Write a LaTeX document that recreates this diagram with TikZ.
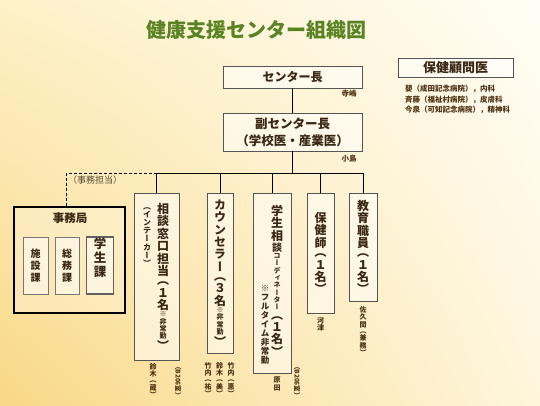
\documentclass[tikz,border=0pt]{standalone}
\usepackage{fontspec}
\setmainfont{Noto Sans CJK JP}
\newfontfamily\jptate[RawFeature=+vert]{Noto Sans CJK JP}
\usetikzlibrary{shadings}
\definecolor{titlegreen}{HTML}{5A8424}
\definecolor{inkbrown}{HTML}{3A2815}
\definecolor{namebrown}{HTML}{4E3214}
\definecolor{framegray}{HTML}{555555}
\definecolor{bgul}{HTML}{FDF1C8}
\definecolor{bgur}{HTML}{FFFDF5}
\definecolor{bgll}{HTML}{F9D886}
\definecolor{bglr}{HTML}{FEF6DC}
\setlength\parindent{0pt}
% one character per line, brackets set closer
\newcommand\tate[1]{\tateloop#1\relax}
\def\tateloop#1{\ifx#1\relax\else\tatechar#1\expandafter\tateloop\fi}
\def\tatechar#1{\ifx#1（{\baselineskip=0.75\baselineskip #1\par}\else
  \ifx#1）{\baselineskip=0.75\baselineskip #1\par}\else #1\par\fi\fi}
\newcommand\szL{\fontsize{12}{12.4}\selectfont}
\newcommand\szM{\fontsize{10}{11}\selectfont}
\newcommand\szS{\fontsize{7}{7.3}\selectfont}
\newcommand\szI{\fontsize{8}{8.2}\selectfont}
\newcommand\szF{\fontsize{8.5}{9}\selectfont}
\newcommand\szN{\fontsize{7}{7.6}\selectfont}

\begin{document}
\begin{tikzpicture}[x=1pt,y=-1pt,
    orgbox/.style={draw=framegray,line width=0.8pt,fill=white,fill opacity=0.5,
      text opacity=1,text=inkbrown,inner sep=0pt},
    conn/.style={black,line width=0.8pt},
    tatecol/.style={text width=14pt,align=center,inner sep=0pt,
      font=\jptate\bfseries,text=inkbrown},
    namecol/.style={text width=9pt,align=center,inner sep=0pt,anchor=north,
      font=\jptate\bfseries\szN,text=namebrown},
    namelbl/.style={inner sep=0pt,font=\bfseries\fontsize{7.5}{8}\selectfont,text=namebrown},
    roomlbl/.style={inner sep=0pt,rotate=-90,font=\bfseries\fontsize{6.5}{7}\selectfont,text=namebrown}]
    \useasboundingbox (0,0) rectangle (540,405);
    \shade[upper left=bgul,upper right=bgur,lower left=bgll,lower right=bglr]
      (0,0) rectangle (540,405);
    \node[inner sep=0pt,font=\bfseries\fontsize{20}{20}\selectfont,text=titlegreen]
      (title) at (256,30) {健康支援センター組織図};
    % Top of the chart
    \node[orgbox,minimum width=139,minimum height=22,font=\bfseries\fontsize{12}{12}\selectfont]
      (chief) at (292.5,77) {センター長};
    \node[namelbl] (chiefname) at (349,94) {寺嶋};
    \node[orgbox,minimum width=139,minimum height=38,align=center,
      font=\bfseries\fontsize{12.5}{17}\selectfont]
      (vice) at (292.5,132) {副センター長\\（学校医・産業医）};
    \node[namelbl] (vicename) at (349,159) {小島};
    % Advisers
    \node[orgbox,minimum width=115,minimum height=19,font=\bfseries\fontsize{13}{13}\selectfont]
      (komon) at (455.5,67.5) {保健顧問医};
    \node[namelbl,anchor=west] (doc1) at (405,89) {嬰（成田記念病院），内科};
    \node[namelbl,anchor=west] (doc2) at (405,99.5) {斉藤（福祉村病院），皮膚科};
    \node[namelbl,anchor=west] (doc3) at (405,110) {今泉（可知記念病院），精神科};
    % Office
    \node[draw=black,line width=1.1pt,fill=white,fill opacity=0.25,
      minimum width=111,minimum height=106] (jimu) at (69.5,260) {};
    \node[inner sep=0pt,font=\bfseries\fontsize{11.5}{12}\selectfont,text=inkbrown]
      (jimutitle) at (70,218) {事務局};
    \node[orgbox,draw=framegray!80,minimum width=25,minimum height=57] (shisetsu) at (35.5,265.5) {};
    \node[orgbox,draw=framegray!80,minimum width=24,minimum height=57] (somu) at (67,265.5) {};
    \node[orgbox,draw=gray!75!black,line width=1.8pt,minimum width=27,minimum height=57]
      (gakuseika) at (100,265.5) {};
    \node[tatecol,font=\jptate\bfseries\fontsize{10}{12}\selectfont] (shisetsutxt) at (shisetsu) {\tate{施設課}};
    \node[tatecol,font=\jptate\bfseries\fontsize{10}{12}\selectfont] (somutxt) at (somu) {\tate{総務課}};
    \node[tatecol,font=\jptate\bfseries\fontsize{12.5}{14}\selectfont] (gakuseikatxt) at (100,258) {\tate{学生課}};
    \node[inner sep=0pt,font=\fontsize{9}{9}\selectfont,text=inkbrown!85] (tanto) at (95,180) {（事務担当）};
    % Staff columns
    \node[orgbox,minimum width=45,minimum height=167] (soudan) at (156.5,276.5) {};
    \node[orgbox,minimum width=26,minimum height=160] (counsel) at (220,273) {};
    \node[orgbox,minimum width=38,minimum height=180] (gakusei) at (272,283) {};
    \node[orgbox,minimum width=27,minimum height=120] (hoken) at (320.5,253) {};
    \node[orgbox,minimum width=28,minimum height=108] (kyoiku) at (363,247) {};
    \node[tatecol,anchor=north] (soudantxt) at (163,203)
      {{\szL\tate{相談窓口担当（１名}}{\szS\tate{※非常勤}}{\szL\tate{）}}};
    \node[tatecol,anchor=north] (intake) at (147,207) {{\szI\tate{（インテーカー）}}};
    \node[tatecol] (counseltxt) at (counsel)
      {{\szL\tate{カウンセラー（３名}}{\szS\tate{※非常勤}}{\szL\tate{）}}};
    \node[tatecol,anchor=north] (gakuseitxt) at (277,205)
      {{\szL\tate{学生相}}{\szM\tate{談}}{\szS\tate{コーディネーター}}{\szL\tate{（１名）}}};
    \node[tatecol,anchor=north] (fulltime) at (265,285) {{\szF\tate{※フルタイム非常勤}}};
    \node[tatecol] (hokentxt) at (hoken) {{\szL\tate{保健師（１名）}}};
    \node[tatecol] (kyoikutxt) at (kyoiku) {{\szL\tate{教育職員（１名）}}};
    % Names under the columns
    \node[namecol] (suzuki) at (153,363) {\tate{鈴木（蔵）}};
    \node[roomlbl] (room1) at (178,381) {（B206室）};
    \node[namecol] (takeuchi1) at (208,362) {\tate{竹内（祐）}};
    \node[namecol] (suzuki2) at (219.5,362) {\tate{鈴木（美）}};
    \node[namecol] (takeuchi2) at (231,362) {\tate{竹内（惠）}};
    \node[namecol] (harada) at (277,377) {\tate{原田}};
    \node[roomlbl] (room2) at (297,381) {（B206室）};
    \node[namecol] (kawazu) at (320.5,317) {\tate{河津}};
    \node[namecol] (sakuma) at (363,306) {\tate{佐久間（兼務）}};
    % Lines
    \coordinate (bus) at (292.5,173);
    \draw[conn] (chief) -- (vice);
    \draw[conn] (vice) -- (bus);
    \draw[conn] (soudan.north) -- (soudan.north |- bus) -- (kyoiku.north |- bus) -- (kyoiku.north);
    \foreach \n in {counsel,gakusei,hoken}
      \draw[conn] (\n.north) -- (\n.north |- bus);
    \draw[conn,dashed,dash pattern=on 3pt off 2pt] (soudan.north |- bus) -| ([xshift=-3.5pt]jimu.north);
  \end{tikzpicture}
\end{document}
